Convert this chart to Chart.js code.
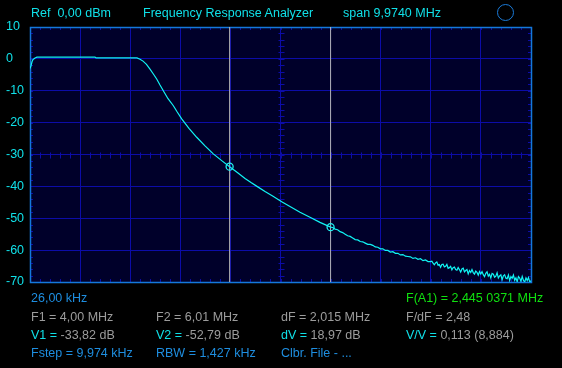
<!DOCTYPE html>
<html>
<head>
<meta charset="utf-8">
<script src="https://cdn.jsdelivr.net/npm/chart.js@4/dist/chart.umd.min.js"></script>
<style>
  html, body { margin:0; padding:0; background:#000; }
  #wrap { position:relative; width:562px; height:368px; overflow:hidden; background:#000; }
  canvas { position:absolute; left:0; top:0; }
  .t { position:absolute; font-family:"Liberation Sans", Arial, sans-serif; font-size:12.5px; line-height:1; white-space:pre; }
  .cy { color:#10e0e8; }
  .gr { color:#9c9c9c; }
  .bl { color:#1e8ee0; }
  .gn { color:#10e010; }
  #ring { position:absolute; left:497px; top:4px; width:15px; height:15px; border:1.6px solid #1a7ad8; border-radius:50%; }
</style>
</head>
<body>
<div id="wrap">
  <canvas id="c" width="562" height="368"></canvas>
  <div class="t cy" style="left:31px;top:6.7px">Ref  0,00 dBm</div>
  <div class="t cy" style="left:143px;top:6.7px">Frequency Response Analyzer</div>
  <div class="t cy" style="left:343px;top:6.7px">span 9,9740 MHz</div>
  <div id="ring"></div>

  <div class="t bl" style="left:31px;top:292.4px">26,00 kHz</div>
  <div class="t gn" style="left:406px;top:292.4px">F(A1) = 2,445 0371 MHz</div>

  <div class="t gr" style="left:31px;top:310.7px">F1 = 4,00 MHz</div>
  <div class="t gr" style="left:156px;top:310.7px">F2 = 6,01 MHz</div>
  <div class="t gr" style="left:281px;top:310.7px">dF = 2,015 MHz</div>
  <div class="t gr" style="left:406px;top:310.7px">F/dF = 2,48</div>

  <div class="t" style="left:31px;top:328.7px"><span class="cy">V1 = </span><span class="gr">-33,82 dB</span></div>
  <div class="t" style="left:156px;top:328.7px"><span class="cy">V2 = </span><span class="gr">-52,79 dB</span></div>
  <div class="t" style="left:281px;top:328.7px"><span class="cy">dV = </span><span class="gr">18,97 dB</span></div>
  <div class="t" style="left:406px;top:328.7px"><span class="cy">V/V = </span><span class="gr">0,113 (8,884)</span></div>

  <div class="t bl" style="left:31px;top:346.5px">Fstep = 9,974 kHz</div>
  <div class="t bl" style="left:156px;top:346.5px">RBW = 1,427 kHz</div>
  <div class="t bl" style="left:281px;top:346.5px">Clbr. File - ...</div>
</div>
<script>
// ---- data (MHz, dB) ----
const freqMHz = [
  0.026,0.046,0.066,0.086,0.126,0.165,1.32,1.34,2.156,2.216,2.276,2.345,2.415,2.475,2.548,2.614,2.68,2.774,2.88,2.954,
  3.046,3.191,3.345,3.51,3.675,3.849,4.0,4.167,4.307,4.426,4.545,4.705,4.864,5.037,5.202,5.401,5.6,5.799,6.01,
  6.05,6.1,6.15,6.2,6.25,6.3,6.35,6.4,6.45,6.5,6.55,6.6,6.65,6.7,6.75,6.8,6.85,6.9,6.95,7,
  7.05,7.1,7.15,7.2,7.25,7.3,7.35,7.4,7.45,7.5,7.55,7.6,7.65,7.7,7.75,7.8,7.85,7.9,7.95,8,
  8.025,8.05,8.075,8.1,8.125,8.15,8.175,8.2,8.225,8.25,8.275,8.3,8.325,8.35,8.375,8.4,8.425,8.45,8.475,8.5,
  8.525,8.55,8.575,8.6,8.625,8.65,8.675,8.7,8.725,8.75,8.775,8.8,8.825,8.85,8.875,8.9,8.925,8.95,8.975,9,
  9.025,9.05,9.075,9.1,9.125,9.15,9.175,9.2,9.225,9.25,9.275,9.3,9.325,9.35,9.375,9.4,9.425,9.45,9.475,9.5,
  9.525,9.55,9.575,9.6,9.625,9.65,9.675,9.7,9.725,9.75,9.775,9.8,9.825,9.85,9.875,9.9,9.925,9.95,9.975,10
];
const levelDb = [
  -3.0,-2.2,-0.9,-0.2,0.3,0.55,0.55,0.3,0.3,-0.1,-0.7,-1.7,-3.2,-4.6,-6.3,-8.2,-10,-12.5,-14.7,-16.6,
  -18.8,-21.8,-24.6,-27.3,-29.8,-32.0,-33.82,-35.8,-37.5,-38.8,-40.0,-41.6,-43.1,-44.8,-46.3,-48.1,-49.7,-51.3,-52.79,
  -52.9,-53.4,-53.6,-54.2,-54.5,-55.0,-55.5,-55.7,-56.2,-56.7,-56.8,-57.3,-57.4,-57.8,-58.2,-58.2,-58.5,-59.0,-59.1,-59.6,
  -59.6,-60.1,-60.1,-60.6,-60.5,-61.0,-61.0,-61.5,-61.4,-61.9,-62.0,-62.1,-62.6,-62.4,-62.9,-62.7,-63.3,-63.1,-63.6,-63.6,
  -63.5,-64.1,-64.6,-64.0,-63.7,-64.7,-64.5,-65.4,-64.5,-64.4,-65.3,-65.1,-64.5,-65.7,-65.5,-65.1,-66.2,-65.5,-65.3,-66.1,
  -66.3,-65.45,-66.1,-66.9,-65.9,-65.65,-66.8,-66.4,-66.1,-67.45,-66.4,-67.0,-66.1,-67.05,-67.5,-66.6,-67.0,-67.85,-66.7,-67.5,
  -66.75,-67.7,-68.35,-67.3,-66.8,-68.15,-67.6,-68.75,-67.3,-67.55,-68.5,-68.15,-67.1,-68.75,-68.1,-67.75,-69.3,-68.05,-67.7,-68.8,
  -68.95,-67.8,-69.55,-68.3,-68.85,-67.8,-69.45,-68.7,-69.95,-68.3,-68.75,-69.8,-68.25,-69.5,-70.0,-68.7,-69.55,-68.6,-69.95,-69.6
];
const cursorFreq = [4.00, 6.01];
const cursorLevel = [-33.82, -52.79];
const yTicks = [10, 0, -10, -20, -30, -40, -50, -60, -70];
const fStart = 0.026, fStop = 10.0, yMin = -70, yMax = 10;
const xDivisions = 10, minorPerDiv = 5;

// ---- build datasets ----
const curve = freqMHz.map((f, i) => ({ x: f, y: levelDb[i] }));
const markers = cursorFreq.map((f, i) => ({ x: f, y: cursorLevel[i] }));
const cursorSets = cursorFreq.map(f => ({
  data: [{ x: f, y: yMin }, { x: f, y: yMax }],
  borderColor: '#b4b4b4', borderWidth: 1, pointRadius: 0, order: 3, tension: 0
}));

const GRID = '#0c0ca8';
const graticule = {
  id: 'graticule',
  beforeDraw(chart) {
    const { ctx, chartArea: a } = chart;
    ctx.save();
    ctx.fillStyle = '#00002a';
    ctx.fillRect(a.left, a.top, a.right - a.left, a.bottom - a.top);
    ctx.restore();
  },
  beforeDatasetsDraw(chart) {
    const { ctx, chartArea: a, scales } = chart;
    const xs = scales.x, ys = scales.y;
    ctx.save();
    ctx.strokeStyle = GRID;
    ctx.lineWidth = 1;
    ctx.beginPath();
    const xStep = (fStop - fStart) / (xDivisions * minorPerDiv);
    const xc = Math.round(xs.getPixelForValue(fStart + (fStop - fStart) / 2)) + 0.5;
    const yc = Math.round(ys.getPixelForValue(-30)) + 0.5;
    for (let k = 1; k < xDivisions * minorPerDiv; k++) {
      const px = Math.round(xs.getPixelForValue(fStart + k * xStep)) + 0.5;
      ctx.moveTo(px, a.top); ctx.lineTo(px, a.top + 3);
      ctx.moveTo(px, a.bottom); ctx.lineTo(px, a.bottom - 3);
      ctx.moveTo(px, yc - 3); ctx.lineTo(px, yc + 3);
    }
    for (let v = yMin + 2; v < yMax; v += 2) {
      const py = Math.round(ys.getPixelForValue(v)) + 0.5;
      ctx.moveTo(a.left, py); ctx.lineTo(a.left + 3, py);
      ctx.moveTo(a.right, py); ctx.lineTo(a.right - 3, py);
      ctx.moveTo(xc - 3, py); ctx.lineTo(xc + 3, py);
    }
    ctx.stroke();
    ctx.strokeStyle = '#1478dc';
    ctx.lineWidth = 1.5;
    ctx.strokeRect(a.left + 0.5, a.top + 0.5, a.right - a.left, a.bottom - a.top);
    ctx.restore();
  }
};

new Chart(document.getElementById('c'), {
  type: 'line',
  data: {
    datasets: [
      { data: markers, showLine: false, pointStyle: 'circle', pointRadius: 3.5,
        pointBorderColor: '#20f0f0', pointBackgroundColor: 'rgba(0,0,0,0)', pointBorderWidth: 1.3, order: 0 },
      { data: curve, borderColor: '#10f4f4', borderWidth: 1.2, pointRadius: 0, tension: 0, order: 1 },
      ...cursorSets
    ]
  },
  options: {
    responsive: false,
    animation: false,
    events: [],
    layout: { padding: { left: 6, right: 31, top: 27, bottom: 86 } },
    plugins: { legend: { display: false }, tooltip: { enabled: false } },
    scales: {
      x: {
        type: 'linear', min: fStart, max: fStop,
        afterBuildTicks(scale) {
          const t = [];
          for (let k = 0; k <= xDivisions; k++) t.push({ value: fStart + k * (fStop - fStart) / xDivisions });
          scale.ticks = t;
        },
        afterFit(scale) { scale.height = 0; },
        ticks: { display: false },
        grid: { color: GRID, lineWidth: 1, drawTicks: false },
        border: { display: false }
      },
      y: {
        min: yMin, max: yMax,
        afterBuildTicks(scale) { scale.ticks = yTicks.map(v => ({ value: v })); },
        afterFit(scale) { scale.width = 24; },
        ticks: {
          color: '#10e0e8', crossAlign: 'far', padding: 0,
          font: { family: 'Liberation Sans', size: 12.5 },
          callback: v => String(v)
        },
        grid: { color: GRID, lineWidth: 1, drawTicks: false },
        border: { display: false }
      }
    }
  },
  plugins: [graticule]
});
</script>
</body>
</html>
